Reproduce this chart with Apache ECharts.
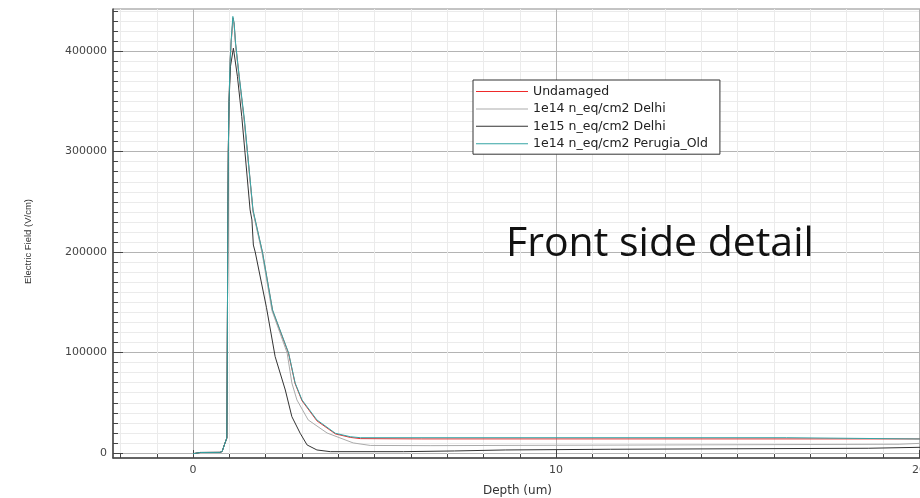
<!DOCTYPE html>
<html>
<head>
<meta charset="utf-8">
<script src="https://cdn.jsdelivr.net/npm/echarts@6/dist/echarts.min.js"></script>
<style>
  html, body { margin: 0; padding: 0; background: #fff; }
  #main { width: 920px; height: 498px; }
</style>
</head>
<body>
<div id="main"></div>
<script>
// depth (um) and electric field (V/cm)
var undamagedX = [0, 0.2, 0.74, 0.8, 0.84, 0.86, 0.93, 0.96, 0.97, 0.99, 1.02, 1.05, 1.1, 1.13, 1.17, 1.27, 1.41, 1.5, 1.65, 1.91, 2.19, 2.63, 2.81, 3.0, 3.41, 3.92, 4.33, 4.61, 6.3, 20.1];
var undamagedY = [-700, 500, 600, 1500, 3000, 8000, 15000, 250000, 300000, 350000, 390000, 410000, 433000, 427000, 407000, 374000, 331000, 298000, 241000, 199500, 141500, 99000, 69000, 52000, 32000, 19000, 15500, 14300, 14000, 14000];

var delhi14X = [0, 0.2, 0.74, 0.8, 0.84, 0.86, 0.93, 0.96, 0.97, 0.99, 1.02, 1.05, 1.1, 1.13, 1.17, 1.27, 1.41, 1.5, 1.65, 1.9, 2.17, 2.59, 2.72, 2.86, 3.17, 3.69, 4.41, 4.88, 6.55, 6.56, 19.45, 19.46, 20.1];
var delhi14Y = [-700, 500, 600, 1500, 3000, 8000, 15000, 250000, 300000, 350000, 390000, 410000, 432000, 426000, 406000, 373000, 330000, 297000, 240000, 199000, 142000, 99600, 69700, 52800, 32900, 19900, 10000, 7500, 7300, 8700, 8700, 9700, 9700];

var delhi15X = [0, 0.2, 0.74, 0.8, 0.84, 0.86, 0.93, 0.96, 0.97, 0.99, 1.03, 1.11, 1.22, 1.34, 1.43, 1.57, 1.62, 1.66, 1.71, 2.02, 2.26, 2.54, 2.72, 2.95, 3.14, 3.41, 3.78, 5.8, 5.81, 7.2, 7.21, 8.6, 8.61, 11.5, 11.51, 18.6, 18.61, 20.1];
var delhi15Y = [-700, 500, 600, 1500, 3000, 8000, 15000, 250000, 300000, 350000, 385000, 403000, 375000, 335000, 298800, 242000, 232000, 207000, 200200, 145000, 95900, 62700, 36200, 19600, 8000, 3000, 1300, 1300, 2000, 2000, 3000, 3000, 3700, 3700, 4700, 4700, 5700, 5700];

var perugiaX = [0, 0.2, 0.74, 0.8, 0.84, 0.86, 0.93, 0.96, 0.97, 0.99, 1.02, 1.05, 1.095, 1.13, 1.17, 1.27, 1.415, 1.5, 1.65, 1.91, 2.19, 2.63, 2.81, 3.0, 3.41, 3.92, 4.33, 4.61, 16.35, 16.36, 20.1];
var perugiaY = [-700, 500, 600, 1500, 3000, 8000, 15000, 252000, 301000, 351000, 391000, 412000, 434600, 428000, 408000, 375000, 331600, 298800, 242000, 200200, 142400, 99600, 69700, 52800, 32900, 19600, 16200, 15200, 15200, 13900, 13900];

var seriesNames = ['Undamaged', '1e14 n_eq/cm2 Delhi', '1e15 n_eq/cm2 Delhi', '1e14 n_eq/cm2 Perugia_Old'];
var seriesColors = ['#ee2a2a', '#ababab', '#333333', '#35a5a5'];

var xMinorTicks = [-2, -1, 0, 1, 2, 3, 4, 5, 6, 7, 8, 9, 10, 11, 12, 13, 14, 15, 16, 17, 18, 19, 20];
var xMajorTicks = [0, 10, 20];
var yMajorTicks = [0, 100000, 200000, 300000, 400000];

function pairs(xs, ys) {
  return xs.map(function (x, i) { return [x, ys[i]]; });
}

var yMinorTicks = [];
for (var v = 0; v <= 440000; v += 10000) yMinorTicks.push(v);

var chart = echarts.init(document.getElementById('main'));
var xr = { min: -2.207, max: 20.08 };
var yr = { min: -5000, max: 442000 };

var option = {
  backgroundColor: '#fff',
  animation: false,
  grid: {
    left: 113, top: 9, right: -2, bottom: 40,
    outerBoundsMode: 'none', containLabel: false,
    show: true, borderColor: '#888', borderWidth: 1, backgroundColor: 'transparent'
  },
  legend: {
    orient: 'vertical',
    left: 473, top: 80,
    data: seriesNames,
    icon: 'rect',
    itemWidth: 52, itemHeight: 1, itemGap: 4.4,
    padding: [5, 12, 4, 3],
    borderColor: '#333', borderWidth: 1, backgroundColor: '#fff',
    textStyle: { fontFamily: 'DejaVu Sans', fontSize: 12.5, lineHeight: 12, color: '#222' }
  },
  xAxis: [
    {
      type: 'value', min: xr.min, max: xr.max, position: 'bottom',
      name: 'Depth (um)', nameLocation: 'middle', nameGap: 27,
      nameTextStyle: { fontFamily: 'DejaVu Sans', fontSize: 12, color: '#333' },
      axisLine: { show: true, onZero: false, lineStyle: { color: '#444', width: 1.5 } },
      axisTick: { show: true, inside: true, length: 4, customValues: xMinorTicks, lineStyle: { color: '#444' } },
      axisLabel: { customValues: xMajorTicks, margin: 7, fontFamily: 'DejaVu Sans', fontSize: 11, color: '#444' },
      splitLine: { show: true, lineStyle: { color: '#ebebeb', width: 1 } }
    },
    {
      type: 'value', min: xr.min, max: xr.max, position: 'bottom',
      axisLine: { show: false, onZero: false },
      axisTick: { show: true, inside: true, length: 8, customValues: xMajorTicks, lineStyle: { color: '#444' } },
      axisLabel: { show: false },
      splitLine: { show: true, lineStyle: { color: '#b4b4b4', width: 1 } }
    }
  ],
  yAxis: [
    {
      type: 'value', min: yr.min, max: yr.max, position: 'left',
      name: 'Electric Field (V/cm)', nameLocation: 'middle', nameGap: 80,
      nameTextStyle: { fontFamily: 'Liberation Sans', fontSize: 9.5, color: '#333', padding: [0, 16, 0, 0] },
      axisLine: { show: true, onZero: false, lineStyle: { color: '#444', width: 1.5 } },
      axisTick: { show: true, inside: true, length: 5, customValues: yMinorTicks, lineStyle: { color: '#444' } },
      axisLabel: {
        customValues: yMajorTicks, margin: 6, fontFamily: 'DejaVu Sans', fontSize: 11, color: '#444',
        formatter: function (val) { return String(val); }
      },
      splitLine: { show: true, lineStyle: { color: '#ebebeb', width: 1 } }
    },
    {
      type: 'value', min: yr.min, max: yr.max, position: 'left',
      axisLine: { show: false, onZero: false },
      axisTick: { show: true, inside: true, length: 10, customValues: yMajorTicks, lineStyle: { color: '#444' } },
      axisLabel: { show: false },
      splitLine: { show: true, lineStyle: { color: '#b4b4b4', width: 1 } }
    }
  ],
  graphic: [
    {
      type: 'text', left: 506, top: 224, silent: true, z: 100,
      style: {
        text: 'Front side detail',
        fontFamily: 'Open Sans', fontSize: 41, fill: '#111',
        stroke: null, lineWidth: 0
      }
    }
  ],
  series: [
    [undamagedX, undamagedY], [delhi14X, delhi14Y], [delhi15X, delhi15Y], [perugiaX, perugiaY]
  ].map(function (d, i) {
    return {
      name: seriesNames[i],
      type: 'line',
      xAxisIndex: 0, yAxisIndex: 0,
      symbol: 'none', showSymbol: false,
      smooth: false,
      color: seriesColors[i],
      lineStyle: { color: seriesColors[i], width: 1 },
      data: pairs(d[0], d[1])
    };
  })
};

chart.setOption(option);
</script>
</body>
</html>
